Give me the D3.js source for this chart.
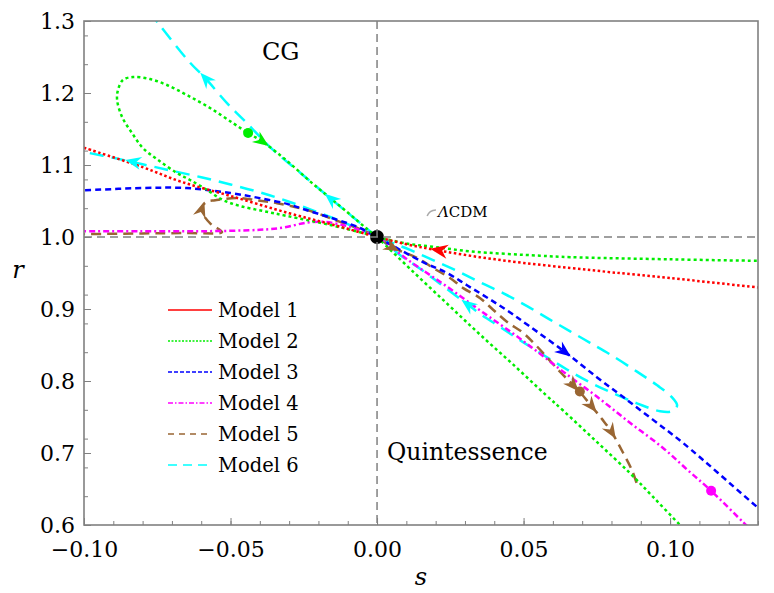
<!DOCTYPE html>
<html><head><meta charset="utf-8">
<script src="https://cdn.jsdelivr.net/npm/d3@7"></script>
<style>body{margin:0;background:#fff}svg{display:block}</style>
</head><body>
<svg id="c" width="774" height="593"></svg>
<script>
// ---------- data ----------
const xTickLabels = [-0.10, -0.05, 0.00, 0.05, 0.10];
const yTickLabels = [0.6, 0.7, 0.8, 0.9, 1.0, 1.1, 1.2, 1.3];
const legendLabels = ["Model 1", "Model 2", "Model 3", "Model 4", "Model 5", "Model 6"];

// Model 1 (red)
const model1 = [[-0.10,1.124],[-0.08,1.097],[-0.067,1.077],[-0.05,1.057],[-0.03,1.033],[-0.015,1.017],[0,1.0],
  [0.01,0.990],[0.02,0.982],[0.035,0.972],[0.05,0.964],[0.066,0.957],[0.08,0.951],[0.10,0.943],[0.13,0.930],[0.135,0.928]];
// Model 2 (green) – three branches
const model2Right = [[0,1],[0.01,0.991],[0.02,0.986],[0.032,0.980],[0.0556,0.974],[0.066,0.972],[0.10,0.969],[0.13,0.967],[0.135,0.967]];
const model2Loop = [[0,1],[-0.0034,1.0111],[-0.0102,1.0347],[-0.0218,1.0736],[-0.0307,1.1056],[-0.0389,1.1319],[-0.0440,1.1444],
  [-0.0492,1.1583],[-0.0570,1.1792],[-0.0649,1.1972],[-0.0717,1.2111],[-0.0775,1.2194],[-0.0833,1.2222],[-0.0867,1.2181],
  [-0.0884,1.2042],[-0.0887,1.1903],[-0.0870,1.1667],[-0.0836,1.1444],[-0.0799,1.1236],[-0.0747,1.1069],[-0.0683,1.0889],
  [-0.0638,1.0792],[-0.0580,1.0653],[-0.0526,1.0514],[-0.0468,1.0431],[-0.0389,1.0361],[-0.0307,1.0292],[-0.0160,1.0167],
  [-0.0048,1.0056],[0,1]];
const model2Steep = [[0,1],[0.012,0.953],[0.024,0.907],[0.035,0.865],[0.0464,0.823],[0.0575,0.781],[0.0635,0.759],
  [0.0751,0.715],[0.0863,0.672],[0.0942,0.639],[0.1034,0.600],[0.107,0.586]];
// Model 3 (blue)
const model3 = [[-0.103,1.065],[-0.10,1.065],[-0.08,1.068],[-0.065,1.068],[-0.05,1.061],[-0.04,1.054],[-0.0307,1.046],[-0.0253,1.039],
  [-0.0137,1.024],[-0.0058,1.0125],[0,1],[0.0157,0.965],[0.0239,0.950],[0.0307,0.933],[0.0375,0.916],[0.0444,0.898],
  [0.0517,0.877],[0.0642,0.840],[0.0751,0.805],[0.0839,0.778],[0.0942,0.746],[0.1044,0.714],[0.1297,0.625],[0.133,0.614]];
// Model 4 (magenta)
const model4 = [[-0.103,1.008],[-0.10,1.008],[-0.08,1.008],[-0.06,1.008],[-0.04,1.010],[-0.032,1.013],[-0.024,1.020],[-0.018,1.021],
  [-0.010,1.015],[-0.004,1.007],[0,1],[0.0113,0.966],[0.0239,0.931],[0.0362,0.895],[0.0464,0.866],[0.0546,0.841],
  [0.0635,0.813],[0.0751,0.778],[0.0863,0.742],[0.0976,0.707],[0.1058,0.677],[0.114,0.6475],[0.1249,0.604],[0.128,0.592]];
// Model 5 (brown)
const model5 = [[-0.103,1.004],[-0.10,1.004],[-0.08,1.005],[-0.065,1.0055],[-0.0529,1.0069],[-0.0567,1.018],[-0.0594,1.032],
  [-0.0597,1.042],[-0.0580,1.049],[-0.0553,1.051],[-0.0519,1.053],[-0.0468,1.054],[-0.0410,1.051],[-0.0341,1.047],
  [-0.0239,1.0375],[-0.0126,1.021],[-0.0058,1.011],[0,1],[0.0055,0.985],[0.0137,0.971],[0.0191,0.957],[0.0249,0.943],
  [0.0294,0.929],[0.0352,0.915],[0.0396,0.899],[0.0444,0.882],[0.0498,0.867],[0.0546,0.848],[0.0625,0.8125],
  [0.0686,0.7875],[0.0734,0.764],[0.0770,0.746],[0.0802,0.728],[0.0840,0.700],[0.0870,0.676],[0.0890,0.653]];
// Model 6 (cyan) – three branches
const model6Upper = [[0,1],[-0.016,1.054],[-0.0273,1.093],[-0.0355,1.121],[-0.0444,1.158],[-0.0512,1.186],[-0.0587,1.221],
  [-0.0638,1.242],[-0.0747,1.297],[-0.079,1.320]];
const model6Left = [[0,1],[-0.01,1.018],[-0.02,1.034],[-0.03,1.049],[-0.04,1.062],[-0.05,1.073],[-0.06,1.083],[-0.07,1.092],
  [-0.08,1.101],[-0.09,1.110],[-0.10,1.118],[-0.103,1.120]];
const model6Loop = [[0,1],[0.004,0.988],[0.0078,0.975],[0.0147,0.956],[0.0215,0.935],[0.0307,0.907],[0.0352,0.893],[0.042,0.875],
  [0.0498,0.854],[0.058,0.833],[0.0648,0.816],[0.0727,0.798],[0.0805,0.783],[0.0887,0.769],[0.0966,0.758],[0.1005,0.758],
  [0.1024,0.766],[0.1005,0.778],[0.0956,0.794],[0.0887,0.813],[0.0795,0.837],[0.0727,0.853],[0.0659,0.869],[0.0587,0.886],
  [0.0512,0.904],[0.043,0.922],[0.0352,0.937],[0.0273,0.953],[0.0191,0.968],[0.0113,0.982],[0.005,0.992],[0,1]];

// arrows: [s, r, direction along the series order]
const model1Arrows = [[0.0205,0.982,-1]];
const model2Arrows = [[-0.0389,1.1319,-1]];
const model3Arrows = [[0.0642,0.840,1]];
const model5Arrows = [[-0.0597,1.040,1],[0.0055,0.985,1],[0.0672,0.793,1],[0.0734,0.764,1],[0.0802,0.728,1]];
const model6UpperArrows = [[-0.0587,1.221,1],[-0.016,1.054,1]];
const model6LeftArrows = [[-0.0836,1.105,1]];
const model6LoopArrows = [[0.0307,0.907,-1]];
// present-day points
const model2Point = [-0.0440,1.1444];
const model4Point = [0.1140,0.6475];
const model5Point = [0.0692,0.7855];
const lcdmPoint = [0,1];

// ---------- styles ----------
const colors = ["#ff0000","#00ee00","#0000ff","#ff00ff","#996633","#00ffff"];
const plotDash = ["2.5,2.5","3,3","6,4","6,3,2,3","10,6","14,8"];
const legendDash = [null,"2,1.5","4,2","5,2,1.5,2","6,5","9,6"];
const FONT = "'DejaVu Serif', serif";

const svg = d3.select("#c");
const x = d3.scaleLinear().domain([-0.10,0.13]).range([84,758]);
const y = d3.scaleLinear().domain([0.6,1.3]).range([525,21]);

svg.append("defs").append("clipPath").attr("id","clip").append("rect")
  .attr("x",84).attr("y",21).attr("width",674).attr("height",504);

// minor ticks
const xMinor = d3.range(-10,14).map(i=>i/100);
const yMinor = d3.range(30,66,2).map(i=>i/50);
function styleAxis(g){
  g.select(".domain").remove();
  g.selectAll(".tick line").attr("stroke","#808080").attr("stroke-width",1);
  g.selectAll("text").attr("font-family",FONT).attr("font-size",22).attr("fill","#000");
}
svg.append("g").attr("transform","translate(0,525)")
  .call(d3.axisBottom(x).tickValues(xMinor).tickSize(-4).tickFormat("")).call(styleAxis);
svg.append("g").attr("transform","translate(84,0)")
  .call(d3.axisLeft(y).tickValues(yMinor).tickSize(-4).tickFormat("")).call(styleAxis);
svg.append("g").attr("transform","translate(0,525)")
  .call(d3.axisBottom(x).tickValues(xTickLabels).tickSize(-7).tickPadding(16).tickFormat(d3.format(".2f"))).call(styleAxis);
svg.append("g").attr("transform","translate(84,0)")
  .call(d3.axisLeft(y).tickValues(yTickLabels).tickSize(-7).tickPadding(9).tickFormat(d3.format(".1f"))).call(styleAxis);

// curves
const plot = svg.append("g").attr("clip-path","url(#clip)");
const line = d3.line().x(d=>x(d[0])).y(d=>y(d[1])).curve(d3.curveCatmullRom.alpha(0.5));
const series = [
  {data:model6Upper,m:5,arrows:model6UpperArrows},{data:model6Left,m:5,arrows:model6LeftArrows},{data:model6Loop,m:5,arrows:model6LoopArrows},
  {data:model5,m:4,arrows:model5Arrows},
  {data:model4,m:3,arrows:[]},
  {data:model3,m:2,arrows:model3Arrows},
  {data:model2Right,m:1,arrows:[]},{data:model2Loop,m:1,arrows:model2Arrows},{data:model2Steep,m:1,arrows:[]},
  {data:model1,m:0,arrows:model1Arrows}
];
series.forEach(sr=>{
  plot.append("path").attr("d",line(sr.data)).attr("fill","none")
    .attr("stroke",colors[sr.m]).attr("stroke-width",2.5).attr("stroke-dasharray",plotDash[sr.m]);
});
// arrowheads
const head = "M0,0 L-16,-6.5 L-11,0 L-16,6.5 Z";
series.forEach(sr=>{
  const P = sr.data.map(d=>[x(d[0]),y(d[1])]);
  sr.arrows.forEach(a=>{
    const px=x(a[0]), py=y(a[1]);
    let bi=0,bd=1e9;
    P.forEach((p,i)=>{const dd=(p[0]-px)**2+(p[1]-py)**2; if(dd<bd){bd=dd;bi=i;}});
    const p0=P[Math.max(bi-1,0)], p1=P[Math.min(bi+1,P.length-1)];
    const ang=Math.atan2((p1[1]-p0[1])*a[2],(p1[0]-p0[0])*a[2]);
    const sc = sr.m===0?1.1:1;
    plot.append("path").attr("d",head).attr("fill",colors[sr.m])
      .attr("transform",`translate(${px+Math.cos(ang)*7},${py+Math.sin(ang)*7}) rotate(${ang*180/Math.PI}) scale(${sc})`);
  });
});
// points
[[model2Point,1],[model4Point,3],[model5Point,4]].forEach(([p,m])=>{
  plot.append("circle").attr("cx",x(p[0])).attr("cy",y(p[1])).attr("r",5).attr("fill",colors[m]);
});
plot.append("circle").attr("cx",x(lcdmPoint[0])).attr("cy",y(lcdmPoint[1])).attr("r",7).attr("fill","#000");

// reference lines
svg.append("line").attr("x1",x(0)).attr("x2",x(0)).attr("y1",21).attr("y2",525)
  .attr("stroke","#808080").attr("stroke-width",1.5).attr("stroke-dasharray","8,5");
svg.append("line").attr("x1",84).attr("x2",758).attr("y1",y(1)).attr("y2",y(1))
  .attr("stroke","#808080").attr("stroke-width",1.5).attr("stroke-dasharray","8,5");

// frame
svg.append("rect").attr("x",84).attr("y",21).attr("width",674).attr("height",504)
  .attr("fill","none").attr("stroke","#808080").attr("stroke-width",1.6);

// ΛCDM annotation
svg.append("path").attr("d",`M${x(0.0171)},${y(1.029)} Q${x(0.0178)},${y(1.037)} ${x(0.0201)},${y(1.0375)}`)
  .attr("fill","none").attr("stroke","#aaaaaa").attr("stroke-width",1.5);
const lt = svg.append("text").attr("x",x(0.0208)).attr("y",217).attr("font-family",FONT).attr("font-size",15);
lt.append("tspan").attr("font-style","italic").text("Λ");
lt.append("tspan").text("CDM");

// region labels
svg.append("text").attr("x",262).attr("y",60).attr("font-family",FONT).attr("font-size",24).text("CG");
svg.append("text").attr("x",387).attr("y",460).attr("font-family",FONT).attr("font-size",23.5).text("Quintessence");

// axis titles
svg.append("text").attr("x",421).attr("y",585).attr("text-anchor","middle").attr("font-family",FONT)
  .attr("font-style","italic").attr("font-size",24).text("s");
svg.append("text").attr("x",18).attr("y",278).attr("text-anchor","middle").attr("font-family",FONT)
  .attr("font-style","italic").attr("font-size",24).text("r");

// legend
legendLabels.forEach((lab,i)=>{
  const yy = 310 + i*31;
  const l = svg.append("line").attr("x1",168).attr("x2",212).attr("y1",yy).attr("y2",yy)
    .attr("stroke",colors[i]).attr("stroke-width",1.6);
  if(legendDash[i]) l.attr("stroke-dasharray",legendDash[i]);
  svg.append("text").attr("x",218).attr("y",yy+7).attr("font-family",FONT).attr("font-size",19.5).text(lab);
});
</script>
</body></html>
